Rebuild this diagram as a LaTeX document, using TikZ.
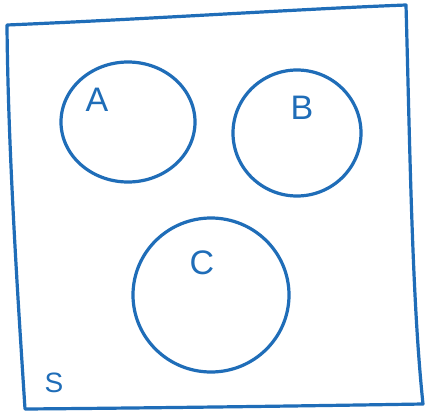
\documentclass[tikz,border=0pt]{standalone}
\usepackage{fontspec}
\setmainfont{Liberation Sans}
\usetikzlibrary{shapes.geometric}
\definecolor{pen}{HTML}{1F6DB8}
\tikzset{
  ink/.style={draw=pen, line width=3.2pt, line cap=round, line join=round},
  setlabel/.style={text=pen, font=\fontsize{34}{36}\selectfont, inner sep=0pt},
}
\begin{document}
\begin{tikzpicture}[x=1pt,y=-1pt]
\useasboundingbox (0,0) rectangle (429,413);
\fill[white] (0,0) rectangle (429,413);
% universe square
\coordinate (tl) at (7,25);
\coordinate (tr) at (406,5);
\coordinate (br) at (423,404);
\coordinate (bl) at (25,409);
\draw[ink] (tl) .. controls (150,19) and (300,9) .. (tr)
  .. controls (410,150) and (412,300) .. (br)
  .. controls (300,406) and (150,408) .. (bl)
  .. controls (18,300) and (8,150) .. (tl) -- cycle;
% circles
\draw[ink] (128,122) ellipse [x radius=67, y radius=60];
\draw[ink] (297,133) ellipse [x radius=64, y radius=63];
\draw[ink] (211,295) ellipse [x radius=78, y radius=77];
% labels
\node[setlabel] (A) at (97,100) {A};
\node[setlabel] (B) at (302,108) {B};
\node[setlabel] (C) at (202,263) {C};
\node[setlabel, font=\fontsize{28}{30}\selectfont] (S) at (54,383) {S};
\end{tikzpicture}
\end{document}
